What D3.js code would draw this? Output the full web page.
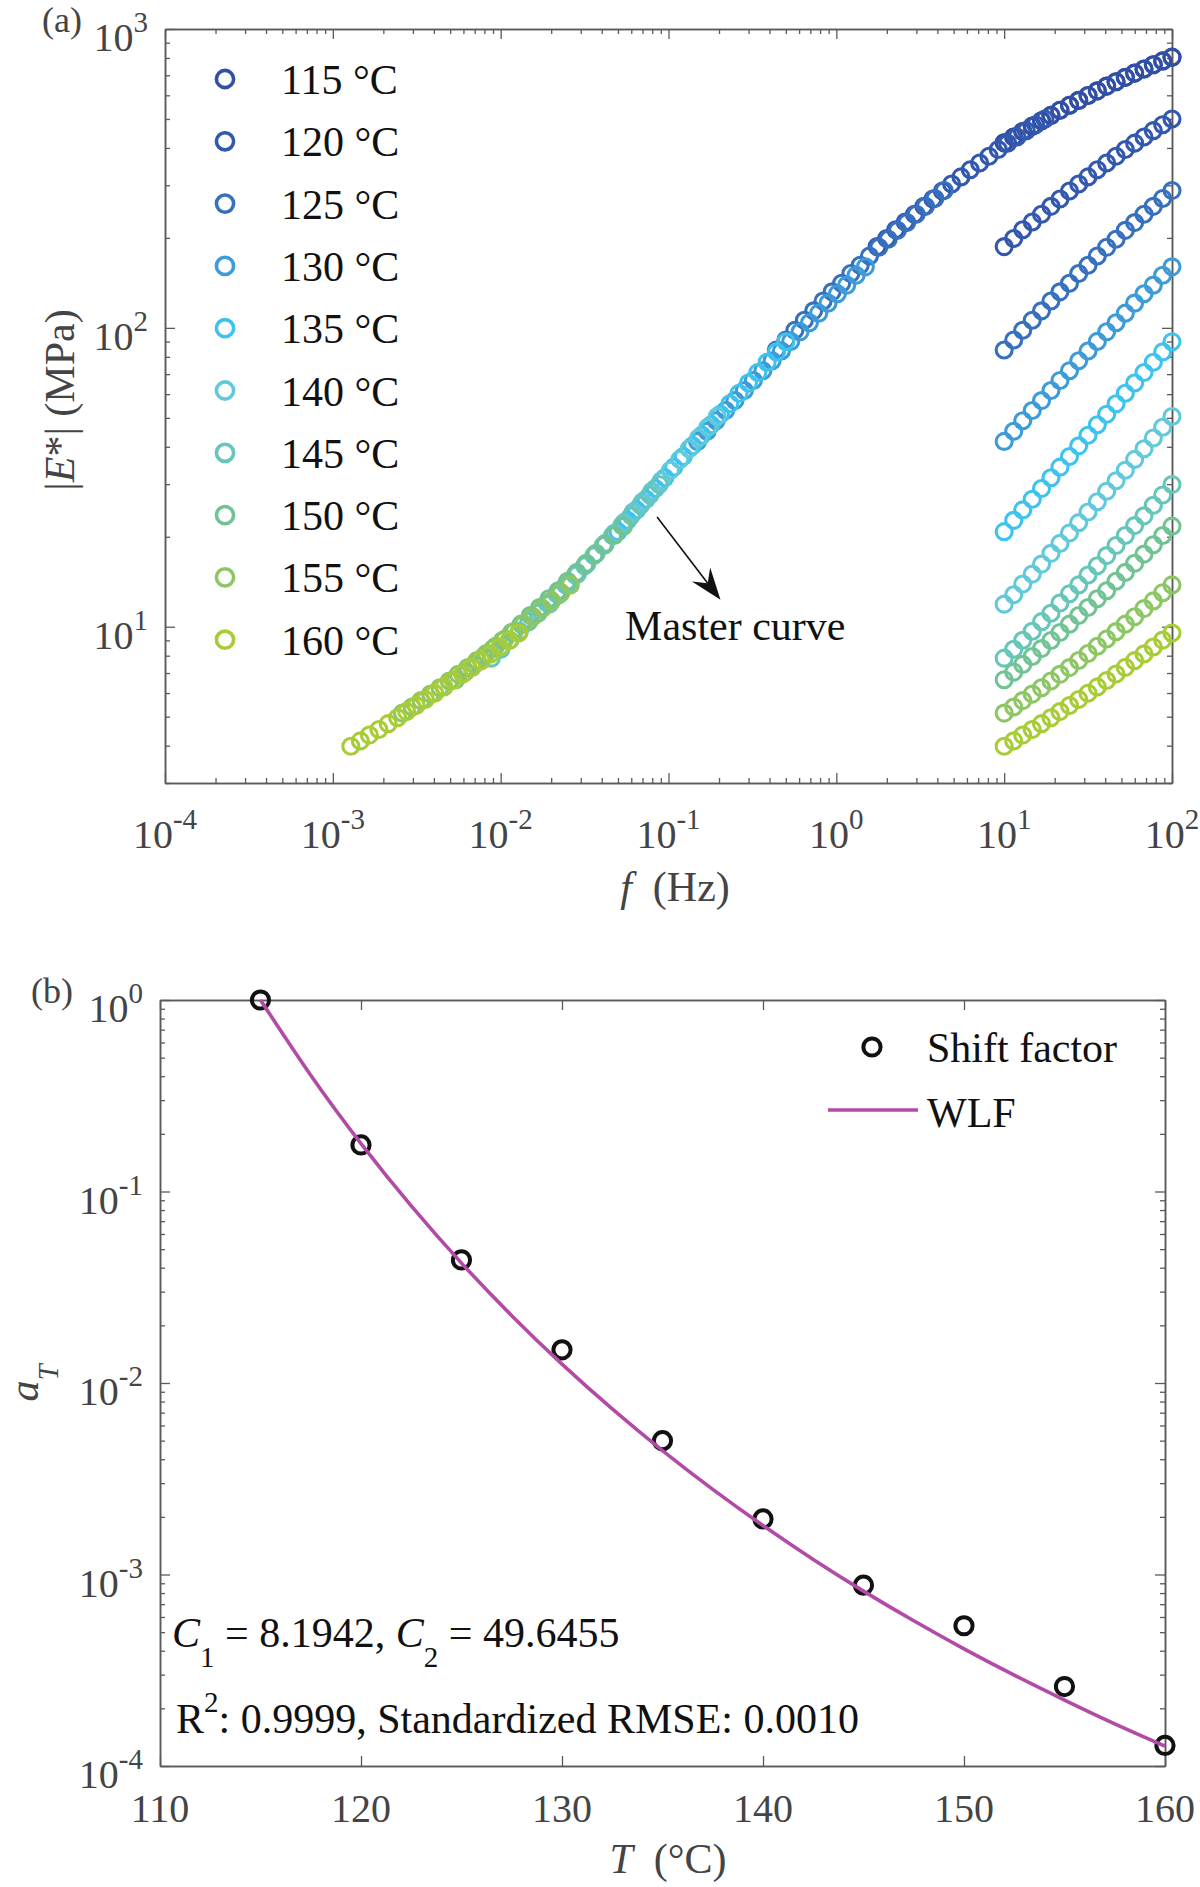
<!DOCTYPE html>
<html>
<head>
<meta charset="utf-8">
<script src="https://cdn.jsdelivr.net/npm/d3@7"></script>
<style>
  body { margin: 0; background: #fff; }
  svg { display: block; font-family: "Liberation Serif", "Times New Roman", serif; }
  text { white-space: pre; }
</style>
</head>
<body>
<svg id="chart" width="1200" height="1887"></svg>
<script>
// ---- data ----
const temps = [115, 120, 125, 130, 135, 140, 145, 150, 155, 160];
const tempColors = ["#3150A5", "#3358AF", "#3670BF", "#3C9BD8", "#3DC3EE",
                    "#62C9DB", "#66C6BA", "#72C393", "#8DC664", "#A8CC37"];

// test frequencies (Hz)
const freqHz = [10, 11.4, 12.9, 14.7, 16.7, 19.0, 21.5, 24.5, 27.8, 31.6,
                35.9, 40.8, 46.4, 52.7, 59.9, 68.1, 77.4, 88.0, 100];

// |E*| (MPa) at each temperature
const modulus115 = [416, 435, 454, 473, 493, 514, 535, 556, 577, 599, 621, 644, 666, 689, 712, 735, 759, 782, 805];
const modulus120 = [187, 199, 213, 226, 240, 255, 270, 287, 303, 320, 338, 356, 375, 395, 415, 435, 457, 478, 500];
const modulus125 = [84.3, 91.1, 98.2, 106, 114, 123, 132, 141, 152, 162, 174, 186, 198, 212, 225, 240, 255, 271, 288];
const modulus130 = [41.7, 45.1, 48.9, 52.9, 57.1, 61.7, 66.7, 71.9, 77.6, 83.7, 90.1, 97.0, 104, 112, 121, 130, 139, 150, 160];
const modulus135 = [20.8, 22.7, 24.6, 26.7, 29.0, 31.5, 34.2, 37.1, 40.3, 43.7, 47.4, 51.4, 55.7, 60.4, 65.4, 70.9, 76.7, 83.1, 89.9];
const modulus140 = [11.9, 12.8, 13.9, 15.0, 16.2, 17.6, 19.0, 20.6, 22.3, 24.2, 26.2, 28.4, 30.8, 33.4, 36.3, 39.4, 42.8, 46.5, 50.5];
const modulus145 = [7.85, 8.41, 9.01, 9.66, 10.4, 11.1, 12.0, 12.9, 13.8, 14.9, 16.0, 17.3, 18.7, 20.2, 21.8, 23.5, 25.5, 27.6, 29.9];
const modulus150 = [6.65, 7.05, 7.48, 7.95, 8.45, 8.99, 9.57, 10.2, 10.9, 11.6, 12.4, 13.2, 14.2, 15.2, 16.3, 17.5, 18.8, 20.2, 21.7];
const modulus155 = [5.14, 5.39, 5.66, 5.95, 6.25, 6.58, 6.93, 7.30, 7.71, 8.14, 8.60, 9.10, 9.63, 10.2, 10.8, 11.5, 12.2, 13.0, 13.8];
const modulus160 = [3.98, 4.15, 4.34, 4.53, 4.74, 4.96, 5.20, 5.45, 5.71, 5.99, 6.29, 6.61, 6.95, 7.31, 7.70, 8.11, 8.55, 9.02, 9.53];
const modulusSeries = [modulus115, modulus120, modulus125, modulus130, modulus135,
                       modulus140, modulus145, modulus150, modulus155, modulus160];

// shift factor a_T (reference 115 C)
const shiftFactor = [1, 0.175, 0.0439, 0.0149, 0.0050, 0.00195, 0.00088, 0.00054, 0.00026, 0.000128];

// WLF fit curve
const wlfT  = [115, 117.5, 120, 122.5, 125, 127.5, 130, 132.5, 135, 137.5, 140,
               142.5, 145, 147.5, 150, 152.5, 155, 157.5, 160];
const wlfAT = [1, 0.4046, 0.1779, 0.08408, 0.04228, 0.02247, 0.01255, 0.007318, 0.004434,
               0.002782, 0.001802, 0.001199, 0.000819, 0.000573, 0.000409, 0.000298,
               0.000221, 0.000166, 0.000127];

// tick labels
const xTickExpA = [-4, -3, -2, -1, 0, 1, 2];
const yTickExpA = [1, 2, 3];
const xTicksB = [110, 120, 130, 140, 150, 160];
const yTickExpB = [0, -1, -2, -3, -4];

// annotation anchor points (data coords)
const arrowFrom = [0.0855, 23.3];
const arrowTo = [0.204, 12.3];
const masterLabelAt = [0.0551, 9.06];

// ---- drawing ----
const svg = d3.select("#chart");
const AX = "#5a5a5a", TXT = "#444", INK = "#111";
const FS = 42, TFS = 40, SUP = 29;

const isPow = v => Math.abs(Math.log10(v) - Math.round(Math.log10(v))) < 1e-9;

function frameTicks(g, box, x, y, xMajor, xMinor, yMajor, yMinor) {
  const sides = [
    [d3.axisBottom, x, `translate(0,${box.bottom})`, xMajor, xMinor],
    [d3.axisTop, x, `translate(0,${box.top})`, xMajor, xMinor],
    [d3.axisLeft, y, `translate(${box.left},0)`, yMajor, yMinor],
    [d3.axisRight, y, `translate(${box.right},0)`, yMajor, yMinor]
  ];
  sides.forEach(([fn, sc, tr, major, minor]) => {
    const gg = g.append("g").attr("transform", tr);
    gg.append("g").call(fn(sc).tickValues(minor).tickSize(-5).tickSizeOuter(0).tickFormat(""));
    gg.append("g").call(fn(sc).tickValues(major).tickSize(-10).tickSizeOuter(0).tickFormat(""));
  });
  g.selectAll(".domain").attr("stroke", AX).attr("stroke-width", 1.5);
  g.selectAll(".tick line").attr("stroke", AX).attr("stroke-width", 1.3);
  g.selectAll(".tick text").remove();
}

function powLabel(g, x, y, exp, anchor) {
  const t = g.append("text").attr("x", x).attr("y", y).attr("text-anchor", anchor)
    .attr("fill", TXT).attr("font-size", TFS);
  t.append("tspan").text("10");
  t.append("tspan").attr("dy", -19).attr("font-size", SUP).text(exp);
}

// ===== panel (a) =====
const A = { left: 165, right: 1172, top: 29, bottom: 783 };
const xA = d3.scaleLog().domain([1e-4, 1e2]).range([A.left, A.right]);
const yA = d3.scaleLog().domain([3, 1e3]).range([A.bottom, A.top]);
const gA = svg.append("g");

frameTicks(gA, A, xA, yA,
  xA.ticks().filter(isPow), xA.ticks().filter(v => !isPow(v)),
  yA.ticks().filter(isPow), yA.ticks().filter(v => !isPow(v)));

xTickExpA.forEach(e => powLabel(gA, xA(10 ** e), A.bottom + 65, e, "middle"));
yTickExpA.forEach(e => powLabel(gA, A.left - 17, yA(10 ** e) + 22, e, "end"));

// axis titles
const xtA = gA.append("text").attr("x", 675).attr("y", 901).attr("text-anchor", "middle")
  .attr("font-size", FS).attr("fill", TXT);
xtA.append("tspan").attr("font-style", "italic").text("f");
xtA.append("tspan").text("  (Hz)");

const ytA = gA.append("text").attr("transform", "translate(74,400) rotate(-90)")
  .attr("text-anchor", "middle").attr("font-size", FS).attr("fill", TXT);
ytA.append("tspan").text("|");
ytA.append("tspan").attr("font-style", "italic").text("E");
ytA.append("tspan").text("*| (MPa)");

gA.append("text").attr("x", 42).attr("y", 32).attr("font-size", 36).attr("fill", TXT).text("(a)");

// data: raw isotherms and shifted (master curve)
temps.forEach((T, i) => {
  const pts = freqHz.map((f, k) => ({ f: f, e: modulusSeries[i][k] }));
  const g = gA.append("g").attr("fill", "none").attr("stroke", tempColors[i]).attr("stroke-width", 3.1);
  g.selectAll(null).data(pts).enter().append("circle")
    .attr("cx", d => xA(d.f)).attr("cy", d => yA(d.e)).attr("r", 8);
  g.selectAll(null).data(pts).enter().append("circle")
    .attr("cx", d => xA(d.f * shiftFactor[i])).attr("cy", d => yA(d.e)).attr("r", 8);
});

// legend (a)
temps.forEach((T, i) => {
  const cy = 79 + i * 62.3;
  gA.append("circle").attr("cx", 225).attr("cy", cy).attr("r", 8.6)
    .attr("fill", "none").attr("stroke", tempColors[i]).attr("stroke-width", 3.6);
  gA.append("text").attr("x", 281).attr("y", cy + 15).attr("font-size", FS).attr("fill", INK)
    .text(T + " °C");
});

// master curve annotation
{
  const p0 = [xA(arrowFrom[0]), yA(arrowFrom[1])];
  const p1 = [xA(arrowTo[0]), yA(arrowTo[1])];
  const dx = p1[0] - p0[0], dy = p1[1] - p0[1], len = Math.hypot(dx, dy);
  const ux = dx / len, uy = dy / len, px = -uy, py = ux;
  const hl = 32, hw = 11.5, notch = 21;
  gA.append("line").attr("x1", p0[0]).attr("y1", p0[1])
    .attr("x2", p1[0] - ux * notch).attr("y2", p1[1] - uy * notch)
    .attr("stroke", INK).attr("stroke-width", 1.6);
  const bx = p1[0] - ux * hl, by = p1[1] - uy * hl;
  gA.append("path")
    .attr("d", `M${p1[0]},${p1[1]} L${bx + px * hw},${by + py * hw} L${p1[0] - ux * notch},${p1[1] - uy * notch} L${bx - px * hw},${by - py * hw} Z`)
    .attr("fill", INK);
  gA.append("text").attr("x", xA(masterLabelAt[0])).attr("y", yA(masterLabelAt[1]))
    .attr("font-size", FS).attr("fill", INK).text("Master curve");
}

// ===== panel (b) =====
const B = { left: 160, right: 1165, top: 1000, bottom: 1766 };
const xB = d3.scaleLinear().domain([110, 160]).range([B.left, B.right]);
const yB = d3.scaleLog().domain([1e-4, 1]).range([B.bottom, B.top]);
const gB = svg.append("g");

frameTicks(gB, B, xB, yB, xTicksB, [],
  yB.ticks().filter(isPow), yB.ticks().filter(v => !isPow(v)));

xTicksB.forEach(v => gB.append("text").attr("x", xB(v)).attr("y", B.bottom + 56)
  .attr("text-anchor", "middle").attr("font-size", TFS).attr("fill", TXT).text(v));
yTickExpB.forEach(e => powLabel(gB, B.left - 17, yB(10 ** e) + 22, e, "end"));

const xtB = gB.append("text").attr("x", 668).attr("y", 1873).attr("text-anchor", "middle")
  .attr("font-size", FS).attr("fill", TXT);
xtB.append("tspan").attr("font-style", "italic").text("T");
xtB.append("tspan").text("  (°C)");

const ytB = gB.append("text").attr("transform", "translate(38,1383) rotate(-90)")
  .attr("text-anchor", "middle").attr("font-size", FS).attr("fill", TXT);
ytB.append("tspan").attr("font-style", "italic").text("a");
ytB.append("tspan").attr("font-style", "italic").attr("font-size", SUP).attr("dy", 20).text("T");

gB.append("text").attr("x", 31).attr("y", 1003).attr("font-size", 36).attr("fill", TXT).text("(b)");

// shift factor markers
gB.append("g").selectAll("circle").data(temps).join("circle")
  .attr("cx", d => xB(d)).attr("cy", (d, i) => yB(shiftFactor[i])).attr("r", 8.6)
  .attr("fill", "none").attr("stroke", INK).attr("stroke-width", 4);

// WLF fit
const WLF = "#B24BA6";
gB.append("path").datum(wlfT.map((t, i) => [t, wlfAT[i]]))
  .attr("d", d3.line().x(d => xB(d[0])).y(d => yB(d[1])).curve(d3.curveNatural))
  .attr("fill", "none").attr("stroke", WLF).attr("stroke-width", 3.6);

// legend (b)
gB.append("circle").attr("cx", 872).attr("cy", 1047).attr("r", 8.6)
  .attr("fill", "none").attr("stroke", INK).attr("stroke-width", 4);
gB.append("text").attr("x", 927).attr("y", 1062).attr("font-size", FS).attr("fill", INK).text("Shift factor");
gB.append("line").attr("x1", 828).attr("x2", 918).attr("y1", 1110).attr("y2", 1110)
  .attr("stroke", WLF).attr("stroke-width", 3.6);
gB.append("text").attr("x", 927).attr("y", 1127).attr("font-size", FS).attr("fill", INK).text("WLF");

// fit parameters
const c = gB.append("text").attr("x", 172).attr("y", 1647).attr("font-size", FS).attr("fill", INK);
c.append("tspan").attr("font-style", "italic").text("C");
c.append("tspan").attr("font-size", SUP).attr("dy", 20).text("1");
c.append("tspan").attr("dy", -20).text(" = 8.1942, ");
c.append("tspan").attr("font-style", "italic").text("C");
c.append("tspan").attr("font-size", SUP).attr("dy", 20).text("2");
c.append("tspan").attr("dy", -20).text(" = 49.6455");

const r = gB.append("text").attr("x", 176).attr("y", 1733).attr("font-size", FS).attr("fill", INK);
r.append("tspan").text("R");
r.append("tspan").attr("font-size", SUP).attr("dy", -21).text("2");
r.append("tspan").attr("dy", 21).text(": 0.9999, Standardized RMSE: 0.0010");
</script>
</body>
</html>
